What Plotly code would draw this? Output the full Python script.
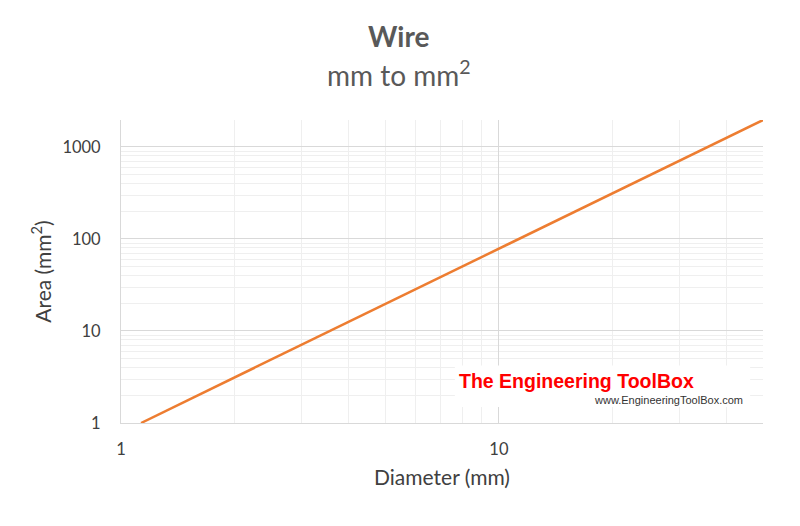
import plotly.graph_objects as go

# wire diameter (mm) and cross section area (mm2)
diameter = [1.13, 2, 3, 5, 10, 20, 30, 40, 50]
area = [1, 3.14, 7.07, 19.6, 78.5, 314, 707, 1257, 1963]

x_ticks = [1, 10]
y_ticks = [1, 10, 100, 1000]

font = "Lato, 'Open Sans', sans-serif"

fig = go.Figure()
fig.add_trace(go.Scatter(
    x=diameter, y=area, mode="lines",
    line=dict(color="#ED7D31", width=2.5),
    showlegend=False, hoverinfo="skip"
))

# page body has an 8px margin, so the figure is a bit smaller than the window
fig.update_layout(
    width=792, height=518,
    margin=dict(l=113, r=37, t=112, b=103),
    paper_bgcolor="white", plot_bgcolor="white",
    font=dict(family=font, color="#404040", size=16),
)

fig.update_xaxes(
    type="log", range=[0, 1.699], automargin=False,
    tickvals=x_ticks, ticktext=[str(v) for v in x_ticks],
    showgrid=True, gridcolor="#d9d9d9", gridwidth=1,
    minor=dict(dtick="D1", showgrid=True, gridcolor="#efefef", gridwidth=1),
    zeroline=False, showline=True, linecolor="#d9d9d9", linewidth=1,
    ticks="outside", ticklen=11, tickcolor="rgba(0,0,0,0)",
    title=dict(text="Diameter (mm)", font=dict(size=21), standoff=12),
    tickfont=dict(size=16.5),
)
fig.update_yaxes(
    type="log", range=[0, 3.293], automargin=False,
    tickvals=y_ticks, ticktext=[str(v) for v in y_ticks],
    showgrid=True, gridcolor="#d9d9d9", gridwidth=1,
    minor=dict(dtick="D1", showgrid=True, gridcolor="#efefef", gridwidth=1),
    zeroline=False, showline=True, linecolor="#d9d9d9", linewidth=1,
    ticks="outside", ticklen=16, tickcolor="rgba(0,0,0,0)",
    title=dict(text="Area (mm<sup>2</sup>)", font=dict(size=21), standoff=5),
    tickfont=dict(size=16.5),
)

# title and subtitle, centred on the page
fig.add_annotation(
    xref="paper", yref="paper", x=0.433, y=1.277, yanchor="middle",
    showarrow=False, text="<b>Wire</b>",
    font=dict(family=font, size=28, color="#595959"),
)
fig.add_annotation(
    xref="paper", yref="paper", x=0.433, y=1.155, yanchor="middle",
    showarrow=False, text="mm to mm<sup>2</sup>",
    font=dict(family=font, size=28, color="#595959"),
)

# watermark box
fig.add_shape(
    type="rect", xref="paper", yref="paper",
    x0=0.52, x1=0.98, y0=0.053, y1=0.19,
    fillcolor="white", line=dict(width=0), layer="above",
)
fig.add_annotation(
    xref="paper", yref="paper", x=0.523, y=0.139,
    xanchor="left", yanchor="middle", showarrow=False,
    text="<b>The Engineering ToolBox</b>",
    font=dict(family="'Liberation Sans Narrow', 'Liberation Sans', Arial, sans-serif",
              size=19.5, color="#ff0000"),
)
fig.add_annotation(
    xref="paper", yref="paper", x=0.972, y=0.076,
    xanchor="right", yanchor="middle", showarrow=False,
    text="www.EngineeringToolBox.com",
    font=dict(family="'Liberation Sans', Arial, sans-serif", size=11, color="#333333"),
)

fig.write_html("out.html")
